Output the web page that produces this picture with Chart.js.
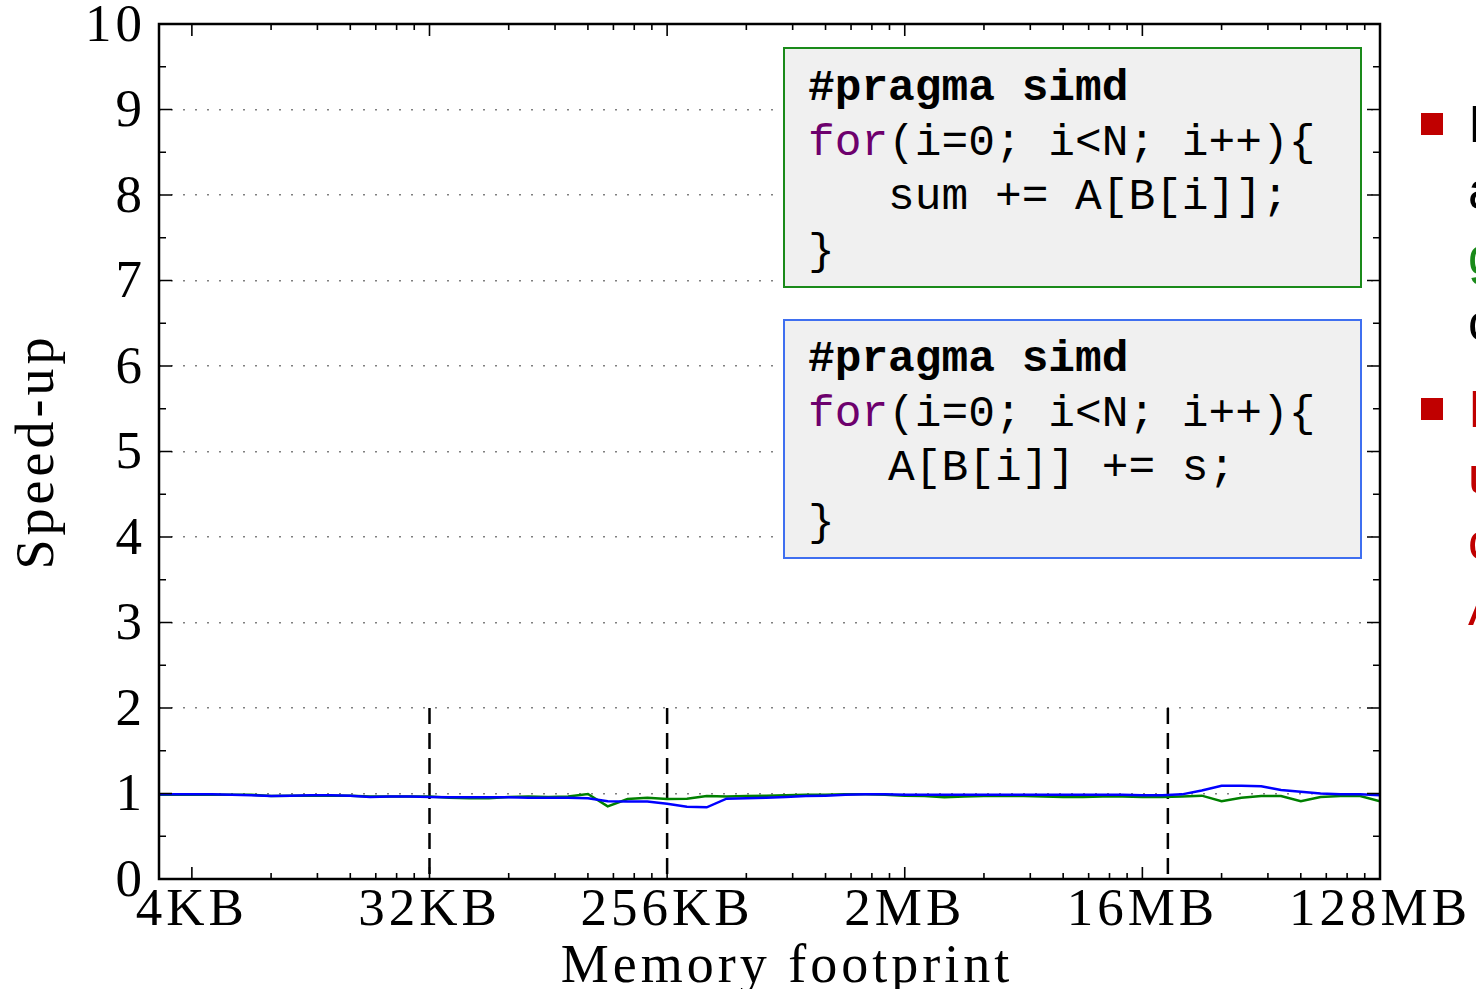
<!DOCTYPE html>
<html>
<head>
<meta charset="utf-8">
<script src="https://cdn.jsdelivr.net/npm/chart.js@4.4.1/dist/chart.umd.min.js"></script>
<style>
  html, body { margin: 0; padding: 0; background: #fff; overflow: hidden; }
  #wrap { position: relative; width: 1476px; height: 989px; overflow: hidden; }
  #chart { position: absolute; left: 0; top: 0; }
  .code {
    position: absolute; box-sizing: border-box; background: #f0f0f0; border: 2px solid;
    padding-left: 23px; font-family: "Liberation Mono", "DejaVu Sans Mono", monospace;
    font-size: 44.5px; line-height: 54.5px; white-space: pre; color: #000;
  }
  .code .pragma { font-weight: bold; }
  .code .kw { color: #6d006d; }
  .side { position: absolute; left: 1420px; width: 300px; font-family: "Liberation Sans", Arial, sans-serif;
          font-size: 52px; line-height: 66px; white-space: nowrap; }
  .side .sq { position: absolute; left: 1px; width: 22px; height: 22px; background: #c00000; }
  .side .txt { position: absolute; left: 48px; top: 0; }
</style>
</head>
<body>
<div id="wrap">
  <canvas id="chart" width="1476" height="989"></canvas>

  <div class="code" style="left:783px; top:47px; width:579px; height:241px; border-color:#1a8a1a; padding-top:12px;"><div class="pragma">#pragma simd</div><div><span class="kw">for</span>(i=0; i&lt;N; i++){</div><div>   sum += A[B[i]];</div><div>}</div></div>

  <div class="code" style="left:783px; top:319px; width:579px; height:240px; border-color:#3f6ff0; padding-top:11px;"><div class="pragma">#pragma simd</div><div><span class="kw">for</span>(i=0; i&lt;N; i++){</div><div>   A[B[i]] += s;</div><div>}</div></div>

  <div class="side" style="top:91px;">
    <div class="sq" style="top:22px;"></div>
    <div class="txt"><div>Irregular reads</div><div>are handled by</div><div style="color:#1a8a1a">gather</div><div>cheaply</div></div>
  </div>
  <div class="side" style="top:376px; color:#c00000;">
    <div class="sq" style="top:22px;"></div>
    <div class="txt"><div>Irregular writes</div><div>use scatter and</div><div>conflict detection</div><div>AVX-512CD</div></div>
  </div>
</div>

<script>
// memory footprint of each run, in KB (steps of 2^(1/4))
const sizesKB = [
    2.83, 3.36, 4, 4.76, 5.66, 6.73,
    8, 9.51, 11.31, 13.45, 16, 19.03, 22.63, 26.91,
    32, 38.05, 45.25, 53.82, 64, 76.11, 90.51, 107.63,
    128, 152.22, 181.02, 215.27, 256, 304.44, 362.04, 430.54,
    512, 608.87, 724.08, 861.08, 1024, 1217.75, 1448.15, 1722.16,
    2048, 2435.5, 2896.3, 3444.3, 4096, 4871, 5792.6, 6888.6,
    8192, 9742, 11585, 13777, 16384, 19484, 23170, 27554,
    32768, 38968, 46341, 55109, 65536, 77936, 92682, 110218,
    131072
];

// sum += A[B[i]]  (green)
const gatherSpeedup = [
    0.985, 0.985, 0.985, 0.985, 0.985, 0.985,
    0.97, 0.975, 0.975, 0.975, 0.975, 0.965, 0.965, 0.965,
    0.965, 0.95, 0.945, 0.945, 0.96, 0.965, 0.96, 0.965,
    0.995, 0.85, 0.935, 0.95, 0.935, 0.94, 0.97, 0.965,
    0.97, 0.975, 0.98, 0.985, 0.985, 0.99, 0.99, 0.985,
    0.975, 0.97, 0.955, 0.965, 0.97, 0.97, 0.97, 0.965,
    0.96, 0.96, 0.965, 0.965, 0.96, 0.96, 0.965, 0.975,
    0.91, 0.95, 0.97, 0.97, 0.91, 0.96, 0.97, 0.97,
    0.91
];

// A[B[i]] += s  (blue)
const scatterSpeedup = [
    0.99, 0.99, 0.99, 0.99, 0.985, 0.98,
    0.97, 0.975, 0.98, 0.98, 0.975, 0.96, 0.965, 0.965,
    0.96, 0.955, 0.955, 0.955, 0.955, 0.95, 0.95, 0.95,
    0.945, 0.91, 0.905, 0.905, 0.88, 0.845, 0.838, 0.94,
    0.945, 0.95, 0.96, 0.97, 0.975, 0.985, 0.99, 0.99,
    0.985, 0.985, 0.985, 0.985, 0.985, 0.985, 0.985, 0.985,
    0.985, 0.985, 0.985, 0.985, 0.98, 0.98, 0.99, 1.035,
    1.09, 1.09, 1.085, 1.04, 1.02, 1.0, 0.99, 0.99,
    0.98
];

const majorKB = [4, 32, 256, 2048, 16384, 131072];
const tickLabels = ['4KB', '32KB', '256KB', '2MB', '16MB', '128MB'];
const minorSteps = [2, 3, 4, 5, 6, 7];

// cache sizes: L1, L2, L3
const cacheKB = [32, 256, 20480];
const cacheMarkTop = 2;

const serif = "'Liberation Serif', 'Times New Roman', serif";

// the TeX font of the original is wider than Times, so space the letters a bit
const spacingPlugin = {
    id: 'spacing',
    beforeDraw(chart) { chart.ctx.letterSpacing = '4px'; }
};

// box with inward ticks on all four sides
const framePlugin = {
    id: 'frame',
    afterDatasetsDraw(chart) {
        const { ctx, chartArea: a, scales: { x, y } } = chart;
        ctx.save();
        ctx.strokeStyle = '#000';
        ctx.lineWidth = 1.6;
        ctx.beginPath();
        for (let v = 0; v <= 10; v += 0.5) {
            const py = y.getPixelForValue(v);
            const len = Number.isInteger(v) ? 13 : 7;
            ctx.moveTo(a.left, py); ctx.lineTo(a.left + len, py);
            ctx.moveTo(a.right, py); ctx.lineTo(a.right - len, py);
        }
        majorKB.forEach(m => {
            const px = x.getPixelForValue(m);
            ctx.moveTo(px, a.bottom); ctx.lineTo(px, a.bottom - 12);
            ctx.moveTo(px, a.top); ctx.lineTo(px, a.top + 12);
            minorSteps.forEach(k => {
                if (m * k >= x.max) return;
                const mx = x.getPixelForValue(m * k);
                ctx.moveTo(mx, a.bottom); ctx.lineTo(mx, a.bottom - 6);
                ctx.moveTo(mx, a.top); ctx.lineTo(mx, a.top + 6);
            });
        });
        ctx.stroke();
        ctx.lineWidth = 2.5;
        ctx.strokeRect(a.left, a.top, a.right - a.left, a.bottom - a.top);
        ctx.restore();
    }
};

const lineStyle = { borderWidth: 2.5, pointRadius: 0, tension: 0, fill: false };

new Chart(document.getElementById('chart'), {
    type: 'line',
    data: {
        datasets: [
            { ...lineStyle, label: 'A[B[i]] += s', borderColor: '#0000ff', order: 0,
              data: sizesKB.map((s, i) => ({ x: s, y: scatterSpeedup[i] })) },
            { ...lineStyle, label: 'sum += A[B[i]]', borderColor: '#008000', order: 1,
              data: sizesKB.map((s, i) => ({ x: s, y: gatherSpeedup[i] })) },
            ...cacheKB.map(c => ({
                ...lineStyle, label: 'cache', borderColor: '#000', borderDash: [16, 9], order: 2,
                data: [{ x: c, y: cacheMarkTop }, { x: c, y: 0 }]
            }))
        ]
    },
    options: {
        responsive: false,
        animation: false,
        devicePixelRatio: 1,
        layout: { padding: { top: 24, right: 96, left: 0, bottom: 0 } },
        plugins: { legend: { display: false }, tooltip: { enabled: false } },
        scales: {
            x: {
                type: 'logarithmic',
                min: 3,
                max: 131072,
                afterBuildTicks: s => { s.ticks = majorKB.map(v => ({ value: v })); },
                afterFit: s => { s.height = 110; s.paddingLeft = 0; s.paddingRight = 0; },
                grid: { display: false, drawTicks: false },
                border: { display: false },
                ticks: {
                    autoSkip: false, maxRotation: 0, minRotation: 0, padding: 0, color: '#000',
                    font: { family: serif, size: 53 },
                    callback: v => {
                        const i = majorKB.indexOf(v);
                        return i >= 0 ? tickLabels[i] : '';
                    }
                },
                title: {
                    display: true, text: '  Memory footprint', color: '#000',
                    font: { family: serif, size: 54, lineHeight: 0.8 }, padding: { top: 0, bottom: 0 }
                }
            },
            y: {
                min: 0,
                max: 10,
                afterFit: s => { s.width = 159; s.paddingTop = 0; s.paddingBottom = 0; },
                grid: {
                    drawTicks: false, lineWidth: 1.5,
                    color: c => (c.tick && (c.tick.value === 0 || c.tick.value === 10)) ? 'rgba(0,0,0,0)' : '#808080'
                },
                border: { display: false, dash: [2, 10] },
                ticks: { stepSize: 1, padding: 13, labelOffset: 3, color: '#000', font: { family: serif, size: 53 } },
                title: {
                    display: true, text: 'Speed-up', color: '#000',
                    font: { family: serif, size: 54, lineHeight: 1 }, padding: { top: 12, bottom: 0 }
                }
            }
        }
    },
    plugins: [spacingPlugin, framePlugin]
});
</script>
</body>
</html>
